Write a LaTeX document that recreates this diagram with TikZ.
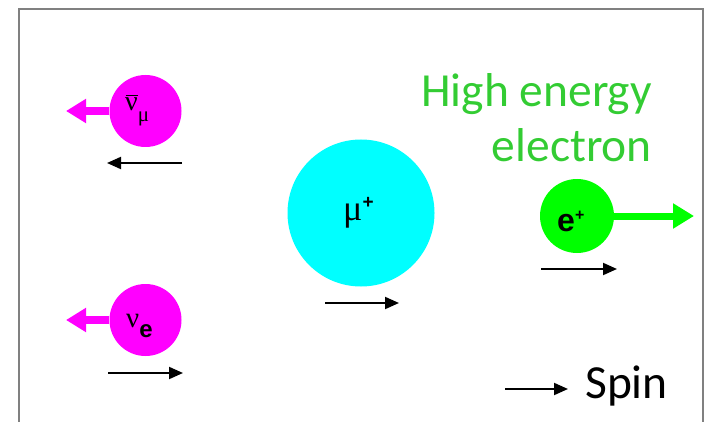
\documentclass[tikz,border=0pt]{standalone}
\usepackage{fontspec}
\setmainfont{Liberation Serif}
\newfontfamily\calfont{Carlito}
\newfontfamily\grkfont{Liberation Serif}
\newfontfamily\arbfont{Liberation Sans}
\usetikzlibrary{arrows.meta}
\definecolor{mag}{RGB}{255,0,255}
\definecolor{cyn}{RGB}{0,255,255}
\definecolor{lime}{RGB}{0,255,0}
\definecolor{txtgreen}{RGB}{51,204,51}
\definecolor{framegray}{RGB}{128,128,128}
\tikzset{
  particle/.style={circle, inner sep=0pt, draw=none},
  lbl/.style={inner sep=0pt, anchor=base west},
  spinarrow/.style={line width=2pt, -{Triangle[length=14pt,width=12pt]}},
  magarrow/.style={mag, line width=8pt, -{Triangle[length=20pt,width=23pt]}},
  greenarrow/.style={lime, line width=7pt, -{Triangle[length=21pt,width=24pt]}},
}
\begin{document}
\begin{tikzpicture}[x=1pt,y=-1pt]
\useasboundingbox (0,0) rectangle (706,422);
% frame
\coordinate (f1) at (19,422);
\coordinate (f2) at (19,9);
\coordinate (f3) at (703,9);
\coordinate (f4) at (703,422);
\draw[framegray, line width=1.5pt] (f1) -- (f2) -- (f3) -- (f4);

% particles
\node[particle, fill=mag, minimum size=72pt] (numubar) at (145.5,111) {};
\node[particle, fill=mag, minimum size=72pt] (nue) at (145.5,320) {};
\node[particle, fill=cyn, minimum size=147pt] (mu) at (361,213) {};
\node[particle, fill=lime, minimum size=74pt] (ep) at (577,216) {};

% labels
\node[lbl] (lnumubar) at (125,111) {\grkfont\fontsize{28}{28}\selectfont\rlap{\kern0.5pt\raisebox{15pt}{\rule{12.5pt}{1.4pt}}}ν\raisebox{-11pt}{\fontsize{21}{21}\selectfont μ}};
\node[lbl] (lnue) at (126,327) {\grkfont\fontsize{29}{29}\selectfont ν\raisebox{-10pt}{\arbfont\bfseries\fontsize{24}{24}\selectfont e}};
\node[lbl] (lmu) at (343,220) {\grkfont\fontsize{36}{36}\selectfont μ\raisebox{12pt}{\arbfont\bfseries\fontsize{19}{19}\selectfont +}};
\node[lbl] (lep) at (557,231) {\arbfont\bfseries\fontsize{32}{32}\selectfont e\raisebox{11pt}{\fontsize{16}{16}\selectfont +}};

% momentum arrows
\coordinate (t1) at (66,111);
\coordinate (t2) at (66,320);
\coordinate (t3) at (694,216);
\draw[magarrow] (numubar.west) -- (t1);
\draw[magarrow] (nue.west) -- (t2);
\draw[greenarrow] (ep.east) -- (t3);

% spin arrows
\coordinate (s1a) at (182,163); \coordinate (s1b) at (107,163);
\coordinate (s2a) at (108,373); \coordinate (s2b) at (183,373);
\coordinate (s3a) at (325,303); \coordinate (s3b) at (399,303);
\coordinate (s4a) at (541,269); \coordinate (s4b) at (617,269);
\coordinate (s5a) at (505,389); \coordinate (s5b) at (568,389);
\draw[spinarrow] (s1a) -- (s1b);
\draw[spinarrow] (s2a) -- (s2b);
\draw[spinarrow] (s3a) -- (s3b);
\draw[spinarrow] (s4a) -- (s4b);
\draw[spinarrow] (s5a) -- (s5b);

% texts
\node[inner sep=0pt, anchor=base west] (spin) at (585,398) {\calfont\fontsize{47.5}{47.5}\selectfont Spin};
\node[inner sep=0pt, anchor=base east, txtgreen] (hi1) at (652,107) {\calfont\fontsize{47.5}{47.5}\selectfont High energy};
\node[inner sep=0pt, anchor=base east, txtgreen] (hi2) at (652,161) {\calfont\fontsize{47.5}{47.5}\selectfont electron};
\end{tikzpicture}
\end{document}
